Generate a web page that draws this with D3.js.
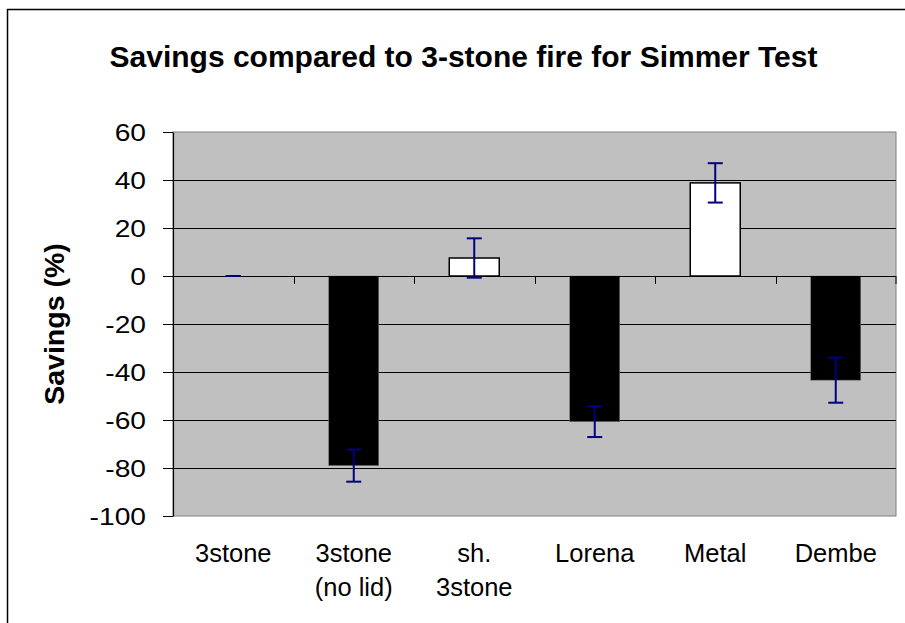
<!DOCTYPE html>
<html>
<head>
<meta charset="utf-8">
<script src="https://cdn.jsdelivr.net/npm/d3@7"></script>
<style>
  body { margin: 0; background: #fff; }
  text { font-family: "Liberation Sans", Arial, sans-serif; fill: #000; }
</style>
</head>
<body>
<div id="chart"></div>
<script>
var categories = ["3stone", "3stone (no lid)", "sh. 3stone", "Lorena", "Metal", "Dembe"];
var labelLines = [["3stone"], ["3stone", "(no lid)"], ["sh.", "3stone"], ["Lorena"], ["Metal"], ["Dembe"]];
var savings = [0, -79, 7.5, -60.7, 38.8, -43.4];
var errors = [0, 6.7, 8.2, 6.4, 8.2, 9.4];
var yTicks = [-100, -80, -60, -40, -20, 0, 20, 40, 60];

var width = 905,
    height = 623,
    margin = {top: 132, right: 9, bottom: 107, left: 173};

var svg = d3.select("#chart").append("svg")
    .attr("width", width)
    .attr("height", height);

// outer chart frame (runs off the right and bottom of the picture)
svg.append("rect")
    .attr("x", 7.5).attr("y", 9.5)
    .attr("width", width + 20).attr("height", height + 20)
    .attr("fill", "#fff")
    .attr("stroke", "#000")
    .attr("stroke-width", 1.5);

var x0 = margin.left, x1 = width - margin.right,
    y0 = margin.top, y1 = height - margin.bottom;

var slot = d3.scaleBand().domain(categories).range([x0, x1]).padding(0);
var y = d3.scaleLinear().domain([-100, 60]).range([y1, y0]);
var barW = slot.bandwidth() * 0.415;

// plot area
svg.append("rect")
    .attr("x", x0).attr("y", y0)
    .attr("width", x1 - x0).attr("height", y1 - y0)
    .attr("fill", "#c0c0c0")
    .attr("stroke", "#808080")
    .attr("stroke-width", 1);

// gridlines
svg.append("g").selectAll("line")
    .data(yTicks.filter(function(d) { return d > -100 && d < 60 && d !== 0; }))
  .enter().append("line")
    .attr("x1", x0).attr("x2", x1)
    .attr("y1", function(d) { return Math.round(y(d)) + 0.5; })
    .attr("y2", function(d) { return Math.round(y(d)) + 0.5; })
    .attr("stroke", "#000").attr("stroke-width", 1);

// bars
svg.append("g").selectAll("rect")
    .data(savings)
  .enter().append("rect")
    .attr("x", function(d, i) { return slot(categories[i]) + (slot.bandwidth() - barW) / 2; })
    .attr("y", function(d) { return y(Math.max(0, d)); })
    .attr("width", barW)
    .attr("height", function(d) { return Math.abs(y(d) - y(0)); })
    .attr("fill", function(d) { return d >= 0 ? "#fff" : "#000"; })
    .attr("stroke", function(d) { return d >= 0 ? "#000" : "#777"; })
    .attr("stroke-width", function(d) { return d >= 0 ? 1.5 : 0.5; });

// category axis along zero
var xAxis = svg.append("g");
xAxis.append("line")
    .attr("x1", x0).attr("x2", x1)
    .attr("y1", Math.round(y(0)) + 0.5).attr("y2", Math.round(y(0)) + 0.5)
    .attr("stroke", "#000").attr("stroke-width", 1.2);
xAxis.selectAll("line.tick")
    .data(categories.slice(1).concat([null]))
  .enter().append("line")
    .attr("class", "tick")
    .attr("x1", function(d) { return d ? Math.round(slot(d)) + 0.5 : x1; })
    .attr("x2", function(d) { return d ? Math.round(slot(d)) + 0.5 : x1; })
    .attr("y1", y(0)).attr("y2", y(0) + 8)
    .attr("stroke", "#000").attr("stroke-width", 1);

// error bars
var err = svg.append("g").selectAll("g")
    .data(savings)
  .enter().append("g")
    .attr("stroke", "#000080")
    .attr("stroke-width", 2);
err.append("line")
    .attr("x1", function(d, i) { return slot(categories[i]) + slot.bandwidth() / 2; })
    .attr("x2", function(d, i) { return slot(categories[i]) + slot.bandwidth() / 2; })
    .attr("y1", function(d, i) { return y(d + errors[i]); })
    .attr("y2", function(d, i) { return y(d - errors[i]); });
[1, -1].forEach(function(s) {
  err.append("line")
      .attr("x1", function(d, i) { return slot(categories[i]) + slot.bandwidth() / 2 - 7.5; })
      .attr("x2", function(d, i) { return slot(categories[i]) + slot.bandwidth() / 2 + 7.5; })
      .attr("y1", function(d, i) { return y(d + s * errors[i]); })
      .attr("y2", function(d, i) { return y(d + s * errors[i]); });
});

// value axis
var yAxis = svg.append("g")
    .attr("transform", "translate(" + x0 + ",0)")
    .call(d3.axisLeft(y).tickValues(yTicks)
      .tickFormat(function(d) { return String(d); })
      .tickSize(10).tickPadding(17).tickSizeOuter(0));
yAxis.select(".domain").attr("stroke", "#000").attr("stroke-width", 1.2);
yAxis.selectAll(".tick line").attr("stroke", "#000");
yAxis.selectAll(".tick text")
    .attr("font-family", "Liberation Sans, Arial, sans-serif")
    .attr("font-size", 24.5)
    .attr("dy", "0.36em")
    .each(function() {
      var w = this.getComputedTextLength();
      d3.select(this).attr("textLength", w * 1.15).attr("lengthAdjust", "spacingAndGlyphs");
    });

// category labels
var labels = svg.append("g").selectAll("text")
    .data(labelLines)
  .enter().append("text")
    .attr("text-anchor", "middle")
    .attr("font-size", 25.5)
    .attr("y", y1 + 46);
labels.selectAll("tspan")
    .data(function(d, i) { return d.map(function(t) { return {t: t, i: i}; }); })
  .enter().append("tspan")
    .attr("x", function(d) { return slot(categories[d.i]) + slot.bandwidth() / 2; })
    .attr("dy", function(d, j) { return j ? 34 : 0; })
    .text(function(d) { return d.t; });

// title
svg.append("text")
    .attr("x", 463.5).attr("y", 67)
    .attr("text-anchor", "middle")
    .attr("font-size", 30)
    .attr("font-weight", "bold")
    .text("Savings compared to 3-stone fire for Simmer Test");

// y label
svg.append("text")
    .attr("transform", "translate(64," + ((y0 + y1) / 2) + ") rotate(-90)")
    .attr("text-anchor", "middle")
    .attr("font-size", 28.5)
    .attr("font-weight", "bold")
    .text("Savings (%)");
</script>
</body>
</html>
